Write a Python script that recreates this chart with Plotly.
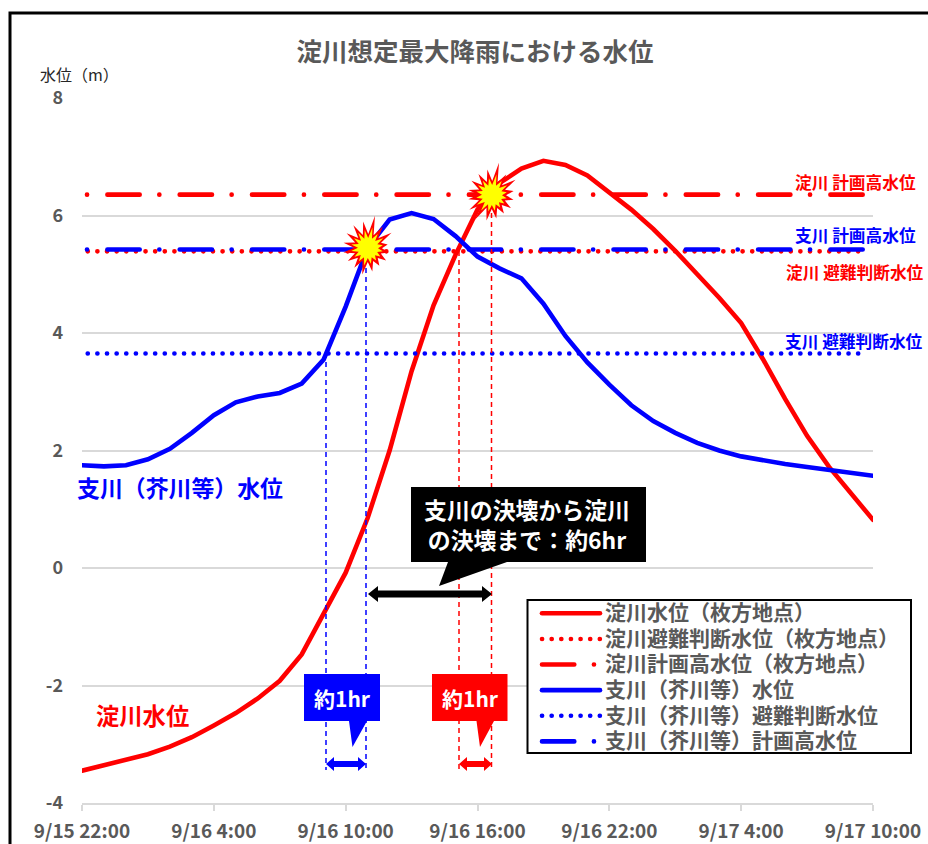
import math
import plotly.graph_objects as go

# ---- data (hours after 9/15 22:00) ----
hours = list(range(37))
yodo_level = [-3.45, -3.36, -3.27, -3.17, -3.04, -2.88, -2.68, -2.47, -2.22, -1.92, -1.47, -0.78,
              -0.08, 0.85, 2.0, 3.35, 4.47, 5.33, 6.1, 6.55, 6.8, 6.93, 6.86, 6.68, 6.4,
              6.1, 5.77, 5.4, 5.0, 4.6, 4.17, 3.55, 2.88, 2.25, 1.72, 1.27, 0.82]
shi_level = [1.75, 1.73, 1.75, 1.85, 2.03, 2.3, 2.6, 2.82, 2.92, 2.98, 3.14, 3.55,
             4.45, 5.45, 5.93, 6.04, 5.94, 5.65, 5.3, 5.1, 4.93, 4.5, 3.95, 3.5, 3.12,
             2.77, 2.5, 2.3, 2.13, 2.0, 1.9, 1.83, 1.77, 1.72, 1.67, 1.62, 1.57]
dot_hours = [0.26, 35.74]
dash_hours = [-2.135, 35.74]
yodo_evac = [5.39, 5.39]
yodo_plan = [6.355, 6.355]
shi_evac = [3.65, 3.65]
shi_plan = [5.42, 5.42]

tick_hours = [0, 6, 12, 18, 24, 30, 36]
tick_labels = ["9/15 22:00", "9/16 4:00", "9/16 10:00", "9/16 16:00", "9/16 22:00", "9/17 4:00", "9/17 10:00"]
y_ticks = [-4, -2, 0, 2, 4, 6, 8]
y_labels = ["-4", "-2", "0", "2", "4", "6", "8"]

names = ["淀川水位（枚方地点）", "淀川避難判断水位（枚方地点）", "淀川計画高水位（枚方地点）",
         "支川（芥川等）水位", "支川（芥川等）避難判断水位", "支川（芥川等）計画高水位"]

# ---- page geometry ----
W, H = 928, 844
L, R, T, B = 82, 873, 98, 803
FONT = "Noto Sans CJK JP"
GREY = "#595959"
GRID = "#D9D9D9"
RED = "#FF0000"
BLUE = "#0000FF"
DOT = "0.1px,9.53px"
DASH = "32.3px,19.6px,0.1px,20.3px"


def px(x):
    return (x - L) / (R - L)


def py(y):
    return (B - y) / (B - T)


def poly(points, fill, line=None, lw=0):
    d = "M" + " L".join(f"{px(a):.5f},{py(b):.5f}" for a, b in points) + " Z"
    return dict(type="path", xref="paper", yref="paper", path=d, fillcolor=fill,
                line=dict(color=line or fill, width=lw), layer="above")


def double_arrow(x0, x1, y, half, head, shaft, color):
    return poly([(x0, y), (x0 + head, y - half), (x0 + head, y - shaft), (x1 - head, y - shaft),
                 (x1 - head, y - half), (x1, y), (x1 - head, y + half), (x1 - head, y + shaft),
                 (x0 + head, y + shaft), (x0 + head, y + half)], color)


def callout(x0, x1, y0, y1, b0, b1, tx, ty, color):
    return poly([(x0, y0), (x1, y0), (x1, y1), (b1, y1), (tx, ty), (b0, y1), (x0, y1)], color)


def star(cx, cy, radii, inner, color):
    n = len(radii)
    pts = []
    for i, r in enumerate(radii):
        a = 2 * math.pi * i / n + 0.18
        pts.append((cx + r * math.cos(a), cy - r * math.sin(a)))
        a2 = a + math.pi / n
        pts.append((cx + inner * math.cos(a2), cy - inner * math.sin(a2)))
    return poly(pts, color)


fig = go.Figure()
styles = [
    (hours, yodo_level, RED, "solid"),
    (dot_hours, yodo_evac, RED, DOT),
    (dash_hours, yodo_plan, RED, DASH),
    (hours, shi_level, BLUE, "solid"),
    (dot_hours, shi_evac, BLUE, DOT),
    (dash_hours, shi_plan, BLUE, DASH),
]
for name, (xs, ys, col, dash) in zip(names, styles):
    fig.add_trace(go.Scatter(x=xs, y=ys, name=name, mode="lines",
                             line=dict(color=col, width=4.6, dash=dash)))


def vline(xp, ytop, col):
    return dict(type="line", xref="paper", yref="paper", x0=px(xp), x1=px(xp), y0=py(ytop), y1=py(770),
                line=dict(color=col, width=1.5, dash="5px,4px"), layer="above")


outer1 = [20, 28, 26, 33, 27, 27, 26, 25, 25, 24, 24, 27, 24, 21, 22, 21]
yellow1 = [15, 18, 17, 21, 18, 18, 17, 17, 17, 16, 16, 18, 16, 15, 15, 15]
outer2 = [22, 28, 25, 33, 26, 25, 25, 24, 24, 27, 30, 26, 24, 22, 23, 22]
yellow2 = [15, 18, 17, 21, 17, 17, 17, 16, 16, 18, 19, 17, 16, 15, 15, 15]

shapes = [
    vline(326, 353, BLUE), vline(366, 250, BLUE), vline(459, 251, RED), vline(491.5, 195, RED),
    star(368, 248, outer1, 14, RED), star(368, 248, yellow1, 10, "#FFFF00"),
    star(492, 195, outer2, 14, RED), star(492, 195, yellow2, 10, "#FFFF00"),
    callout(411, 646, 487, 562, 448, 507, 439, 586, "#000000"),
    double_arrow(368, 492, 594, 8, 10, 3.5, "#000000"),
    callout(304, 380, 674, 721, 349, 367, 352.5, 747, BLUE),
    callout(432, 507.5, 674, 721, 476.5, 494, 480, 747, RED),
    double_arrow(326, 366, 764, 7, 8, 3, BLUE),
    double_arrow(459, 492, 764, 7, 8, 3, RED),
    dict(type="rect", xref="paper", yref="paper", x0=px(527.5), x1=px(911), y0=py(600), y1=py(753),
         fillcolor="white", line=dict(color="black", width=2), layer="above"),
    dict(type="path", xref="paper", yref="paper",
         path=f"M{px(10)},{py(850)} L{px(10)},{py(13)} L{px(930)},{py(13)}",
         line=dict(color="black", width=3), layer="above"),
]


def note(text, x, y, size, color, bold=True, anchor="center"):
    return dict(text=text, xref="paper", yref="paper", x=px(x), y=py(y), xanchor=anchor, yanchor="middle",
                showarrow=False, align="center",
                font=dict(family=FONT, size=size, color=color, weight=700 if bold else 400))


annotations = [
    note("水位（m）", 38, 74, 16, "#262626", bold=False, anchor="left"),
    note("淀川 計画高水位", 855, 182, 16.7, RED),
    note("支川 計画高水位", 855, 235, 16.7, BLUE),
    note("淀川 避難判断水位", 855, 272, 16.7, RED),
    note("支川 避難判断水位", 854, 341, 16.7, BLUE),
    note("支川（芥川等）水位", 180, 487, 22.9, BLUE),
    note("淀川水位", 142, 715, 23.3, RED),
    note("支川の決壊から淀川<br>の決壊まで：約6hr", 527, 524, 22.9, "white"),
    note("約1hr", 342, 698, 21, "white"),
    note("約1hr", 470, 698, 21, "white"),
]

fig.update_layout(
    width=W, height=H, autosize=False,
    margin=dict(l=L, r=W - R, t=T, b=H - B, autoexpand=False),
    paper_bgcolor="white", plot_bgcolor="white",
    font=dict(family=FONT, color=GREY),
    title=dict(text="淀川想定最大降雨における水位", x=475 / W, xanchor="center", xref="container",
               y=1 - 52 / H, yanchor="middle", yref="container",
               font=dict(family=FONT, size=25.5, color=GREY, weight=700)),
    xaxis=dict(range=[0, 36], tickmode="array", tickvals=tick_hours, ticktext=tick_labels, automargin=False,
               showgrid=False, zeroline=False, showline=True, linecolor=GRID, linewidth=1.5,
               ticks="outside", ticklen=6, tickcolor=GRID, tickwidth=1.5, tickangle=0, ticklabelstandoff=4,
               tickfont=dict(family=FONT, size=19, color=GREY, weight=700)),
    yaxis=dict(range=[-4, 8], tickmode="array", tickvals=y_ticks, ticktext=y_labels, automargin=False,
               showgrid=True, gridcolor=GRID, gridwidth=1.5,
               zeroline=False, showline=False, ticks="", ticklabelstandoff=18,
               tickfont=dict(family=FONT, size=18, color=GREY, weight=700)),
    legend=dict(x=px(537), xanchor="left", y=py(595.5), yanchor="top", bgcolor="rgba(0,0,0,0)", borderwidth=0,
                itemwidth=58, font=dict(family=FONT, size=17.4, color=GREY, weight=700),
                traceorder="normal"),
    showlegend=True,
    shapes=shapes,
    annotations=annotations,
)

post = """
document.body.style.margin = '0';
var s = document.createElement('style');
s.textContent = '.js-line{stroke-linecap:round;} .legendtext{font-size:21px !important;} .legend .scrollbox{clip-path:none !important;}';
document.head.appendChild(s);
"""
fig.write_html("out.html", post_script=post, config=dict(displayModeBar=False))
